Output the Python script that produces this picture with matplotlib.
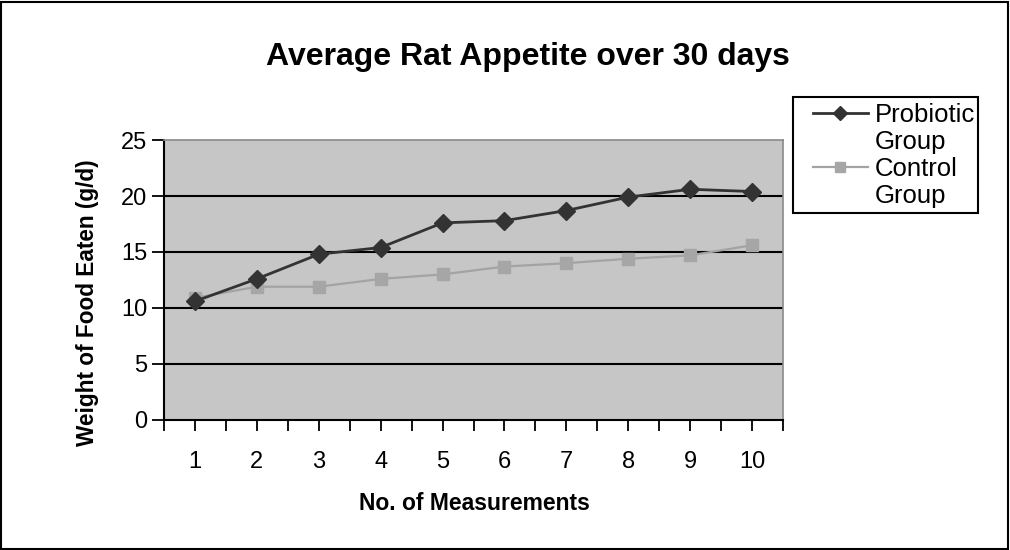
import matplotlib.pyplot as plt
from matplotlib.lines import Line2D
from matplotlib.patches import Rectangle

plt.rcParams['font.family'] = ['Liberation Sans', 'DejaVu Sans']

# data
measurements = [1, 2, 3, 4, 5, 6, 7, 8, 9, 10]
probiotic = [10.6, 12.6, 14.8, 15.4, 17.6, 17.8, 18.7, 19.9, 20.6, 20.4]
control = [10.9, 11.9, 11.9, 12.6, 13.0, 13.7, 14.0, 14.4, 14.7, 15.6]
y_ticks = [0, 5, 10, 15, 20, 25]

fig = plt.figure(figsize=(10.1, 5.5), dpi=100)
fig.patch.set_facecolor('white')
fig.patches.append(Rectangle((0.001, 0.002), 0.997, 0.995, transform=fig.transFigure,
                             fill=False, edgecolor='black', linewidth=1.5))

ax = fig.add_axes([164 / 1010, 130 / 550, 619 / 1010, 280 / 550])
ax.set_facecolor('#c6c6c6')

# gridlines
for v in y_ticks[1:-1]:
    ax.axhline(v, color='black', linewidth=1.5, zorder=1)

ax.plot(measurements, probiotic, color='#333333', linewidth=2, marker='D',
        markersize=9, markerfacecolor='#333333', markeredgecolor='#333333', zorder=4)
ax.plot(measurements, control, color='#a3a3a3', linewidth=1.6, marker='s',
        markersize=8, markerfacecolor='#a6a6a6', markeredgecolor='#a6a6a6', zorder=3)

ax.set_xlim(0.5, 10.5)
ax.set_ylim(0, 25)
ax.set_yticks(y_ticks)
ax.set_xticks(measurements)
ax.set_xticks([m - 0.5 for m in measurements] + [10.5], minor=True)

for s in ['top', 'right']:
    ax.spines[s].set_color('#8a8a8a')
    ax.spines[s].set_linewidth(1.2)
for s in ['left', 'bottom']:
    ax.spines[s].set_color('black')
    ax.spines[s].set_linewidth(1.5)

ax.tick_params(axis='y', which='major', direction='out', length=9, width=1.3,
               pad=3, labelsize=17)
ax.tick_params(axis='x', which='both', direction='out', length=8, width=1.3)
ax.tick_params(axis='x', which='major', pad=14, labelsize=17)

fig.text(528 / 1010, 1 - 57 / 550, 'Average Rat Appetite over 30 days',
         ha='center', va='center', fontsize=23, fontweight='bold')
fig.text(474 / 1010, 1 - 503 / 550, 'No. of Measurements',
         ha='center', va='center', fontsize=16.5, fontweight='bold')
fig.text(88 / 1010, 1 - 303 / 550, 'Weight of Food Eaten (g/d)',
         ha='center', va='center', rotation=90, fontsize=16.3, fontweight='bold')

# legend box drawn on its own, labels wrap onto a second line like the original
fig.patches.append(Rectangle((793 / 1010, 1 - 213 / 550), 185 / 1010, 116 / 550,
                             transform=fig.transFigure, fill=False,
                             edgecolor='black', linewidth=1.5))
h1 = Line2D([], [], color='#333333', linewidth=2, marker='D', markersize=7.5)
h2 = Line2D([], [], color='#a3a3a3', linewidth=1.6, marker='s', markersize=7,
            markerfacecolor='#a6a6a6', markeredgecolor='#a6a6a6')
blank = Line2D([], [], linestyle='none')
leg = fig.legend([h1, blank, h2, blank], ['Probiotic', 'Group', 'Control', 'Group'],
                 loc='upper left', bbox_to_anchor=(813 / 1010, 1 - 103 / 550),
                 fontsize=18.5, frameon=False, handlelength=2.14, handletextpad=0.27,
                 labelspacing=0.12, borderpad=0, borderaxespad=0)

fig.savefig('out.png', dpi=100)
